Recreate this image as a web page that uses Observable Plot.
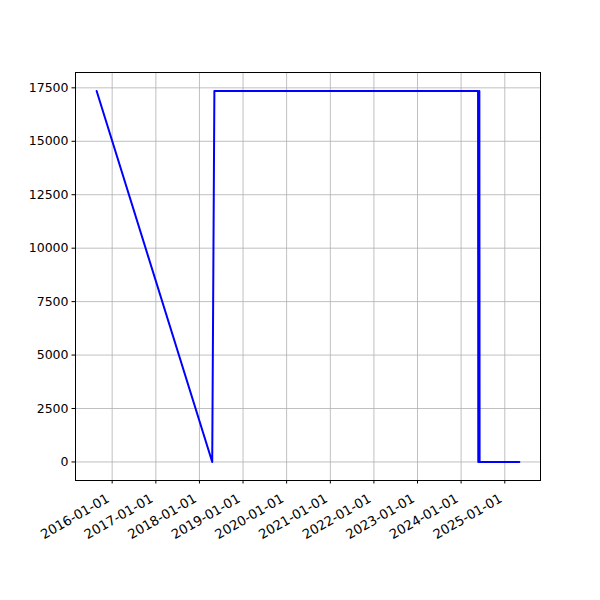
<!DOCTYPE html>
<html>
<head>
<meta charset="utf-8">
<script src="https://cdn.jsdelivr.net/npm/d3@7"></script>
<script src="https://cdn.jsdelivr.net/npm/@observablehq/plot@0.6"></script>
<style>
  html, body { margin: 0; padding: 0; background: white; }
</style>
</head>
<body>
<div id="chart"></div>
<script>
const dates = ["2015-08-24", "2018-04-18", "2018-05-06", "2024-05-22", "2024-05-24", "2024-06-02", "2024-06-04", "2025-05-03"];
const values = [17350, 0, 17350, 17350, 0, 17350, 0, 0];
const tickYears = [2016, 2017, 2018, 2019, 2020, 2021, 2022, 2023, 2024, 2025];
const yTicks = [0, 2500, 5000, 7500, 10000, 12500, 15000, 17500];

const data = dates.map((d, i) => ({ date: new Date(d + "T00:00:00Z"), value: values[i] }));
const xTicks = tickYears.map(y => new Date(Date.UTC(y, 0, 1)));

// matplotlib-style 5% margins
const [x0, x1] = d3.extent(data, d => +d.date);
const xPad = (x1 - x0) * 0.05;
const [y0, y1] = d3.extent(data, d => d.value);
const yPad = (y1 - y0) * 0.05;

const chart = Plot.plot({
  width: 600,
  height: 600,
  marginLeft: 75,
  marginRight: 60,
  marginTop: 72,
  marginBottom: 120,
  style: { fontFamily: "DejaVu Sans", fontSize: "12.5px", color: "black", background: "white" },
  x: { type: "utc", domain: [new Date(x0 - xPad), new Date(x1 + xPad)] },
  y: { domain: [y0 - yPad, y1 + yPad] },
  marks: [
    Plot.gridX(xTicks, { stroke: "#b0b0b0", strokeOpacity: 1, strokeWidth: 0.8 }),
    Plot.gridY(yTicks, { stroke: "#b0b0b0", strokeOpacity: 1, strokeWidth: 0.8 }),
    Plot.line(data, { x: "date", y: "value", stroke: "#0000ff", strokeWidth: 2 }),
    Plot.frame({ stroke: "black", strokeWidth: 1 }),
    Plot.axisX(xTicks, { tickSize: 3.5, label: null, text: null }),
    Plot.axisX(xTicks, { tickFormat: d3.utcFormat("%Y-%m-%d"), tickRotate: -30, tickSize: 0, tickPadding: 11, dx: -4, dy: 6, fontSize: 13.2, label: null }),
    Plot.axisY(yTicks, { tickFormat: d3.format("d"), tickSize: 3.5, tickPadding: 3.5, label: null })
  ]
});
document.getElementById("chart").appendChild(chart);
</script>
</body>
</html>
